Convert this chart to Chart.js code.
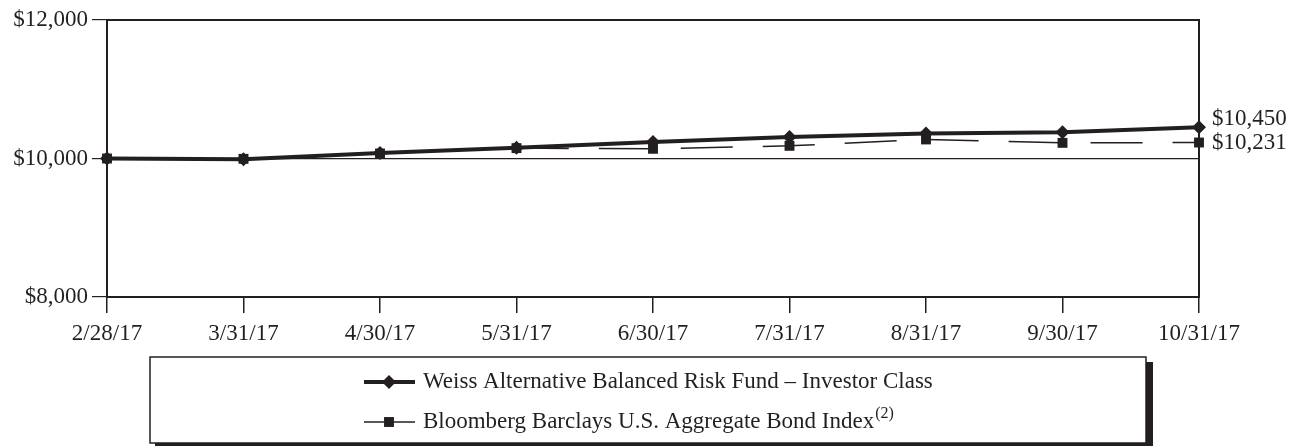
<!DOCTYPE html>
<html>
<head>
<meta charset="utf-8">
<script src="https://cdn.jsdelivr.net/npm/chart.js@4.4.0/dist/chart.umd.min.js"></script>
<style>
  body { margin: 0; background: #fff; }
  #wrap { width: 1299px; height: 446px; }
</style>
</head>
<body>
<div id="wrap"><canvas id="growth-chart" width="1299" height="446"></canvas></div>
<script>
const dates = ['2/28/17', '3/31/17', '4/30/17', '5/31/17', '6/30/17', '7/31/17', '8/31/17', '9/30/17', '10/31/17'];
const fundValues = [10000, 9990, 10080, 10155, 10240, 10310, 10360, 10380, 10450];
const indexValues = [10000, 9995, 10072, 10150, 10140, 10183, 10275, 10226, 10231];
const seriesNames = ['Weiss Alternative Balanced Risk Fund \u2013 Investor Class', 'Bloomberg Barclays U.S. Aggregate Bond Index'];
const seriesNotes = ['', '(2)'];
const yTicks = [8000, 10000, 12000];

const ink = '#231f20';
const serif = "'Liberation Serif', 'Times New Roman', serif";
const textSize = 23;

function money(v) {
  return '$' + v.toLocaleString('en-US');
}

// outline round the plot area
const framePlugin = {
  id: 'frame',
  afterDatasetsDraw(chart) {
    const a = chart.chartArea;
    const ctx = chart.ctx;
    ctx.save();
    ctx.strokeStyle = ink;
    ctx.lineWidth = 2;
    ctx.strokeRect(a.left, a.top, a.right - a.left, a.bottom - a.top);
    ctx.restore();
  }
};

// end values written on the right of the last points
const endLabels = {
  id: 'endLabels',
  afterDraw(chart) {
    const ctx = chart.ctx;
    const y = chart.scales.y;
    const x = chart.scales.x;
    const shifts = [-8, 0];
    ctx.save();
    ctx.font = textSize + 'px ' + serif;
    ctx.fillStyle = ink;
    ctx.textBaseline = 'middle';
    ctx.textAlign = 'left';
    chart.data.datasets.forEach(function(ds, i) {
      const last = ds.data.length - 1;
      const px = x.getPixelForValue(last) + 13;
      const py = y.getPixelForValue(ds.data[last]) + shifts[i];
      ctx.fillText(money(ds.data[last]), px, py);
    });
    ctx.restore();
  }
};

// boxed legend with drop shadow under the axis
const boxLegend = {
  id: 'boxLegend',
  afterDraw(chart) {
    const ctx = chart.ctx;
    const box = { left: 150, top: 357, right: 1146, bottom: 443 };
    ctx.save();
    ctx.fillStyle = ink;
    ctx.fillRect(box.right, box.top + 5, 7, box.bottom - box.top - 2);
    ctx.fillRect(box.left + 5, box.bottom, box.right - box.left + 2, 4);
    ctx.fillStyle = '#fff';
    ctx.fillRect(box.left, box.top, box.right - box.left, box.bottom - box.top);
    ctx.strokeStyle = ink;
    ctx.lineWidth = 1.5;
    ctx.strokeRect(box.left, box.top, box.right - box.left, box.bottom - box.top);

    const rows = [382, 422];
    chart.data.datasets.forEach(function(ds, i) {
      const ry = rows[i];
      ctx.strokeStyle = ink;
      ctx.lineWidth = i === 0 ? 4 : 1.5;
      ctx.setLineDash([]);
      ctx.beginPath();
      ctx.moveTo(364, ry);
      ctx.lineTo(415, ry);
      ctx.stroke();
      ctx.fillStyle = ink;
      Chart.helpers.drawPoint(ctx, {
        pointStyle: ds.pointStyle,
        radius: ds.pointRadius,
        borderWidth: 0
      }, 389, ry);
      ctx.font = textSize + 'px ' + serif;
      ctx.textBaseline = 'middle';
      ctx.textAlign = 'left';
      ctx.fillText(seriesNames[i], 423, ry);
      if (seriesNotes[i]) {
        const w = ctx.measureText(seriesNames[i]).width;
        ctx.font = '16px ' + serif;
        ctx.fillText(seriesNotes[i], 423 + w + 1, ry - 8);
      }
    });
    ctx.restore();
  }
};

const chart = new Chart(document.getElementById('growth-chart'), {
  type: 'line',
  data: {
    labels: dates,
    datasets: [
      {
        label: seriesNames[0],
        data: fundValues,
        borderColor: ink,
        backgroundColor: ink,
        borderWidth: 4,
        pointStyle: 'rectRot',
        pointRadius: 7,
        pointBorderWidth: 0,
        tension: 0
      },
      {
        label: seriesNames[1],
        data: indexValues,
        borderColor: ink,
        backgroundColor: ink,
        borderWidth: 1.5,
        borderDash: [52, 30],
        pointStyle: 'rect',
        pointRadius: 7,
        pointBorderWidth: 0,
        tension: 0
      }
    ]
  },
  options: {
    responsive: false,
    animation: false,
    layout: { padding: { top: 20, right: 100, left: 0, bottom: 0 } },
    plugins: {
      legend: { display: false },
      tooltip: { enabled: false }
    },
    scales: {
      x: {
        offset: false,
        afterFit(scale) { scale.height = 149; },
        grid: {
          offset: false,
          drawOnChartArea: false,
          tickLength: 16,
          tickColor: ink,
          lineWidth: 1.5
        },
        border: { display: false },
        ticks: {
          color: ink,
          padding: 7,
          maxRotation: 0,
          autoSkip: false,
          font: { family: serif, size: textSize }
        }
      },
      y: {
        min: yTicks[0],
        max: yTicks[yTicks.length - 1],
        afterFit(scale) { scale.width = 107; },
        afterBuildTicks(scale) {
          scale.ticks = yTicks.map(function(v) { return { value: v }; });
        },
        grid: {
          color: function(c) { return c.tick && c.tick.value === 10000 ? ink : 'rgba(0,0,0,0)'; },
          tickColor: ink,
          tickLength: 15,
          lineWidth: 1.2
        },
        border: { display: false },
        ticks: {
          color: ink,
          padding: 4,
          font: { family: serif, size: textSize },
          callback: function(v) { return money(v); }
        }
      }
    }
  },
  plugins: [framePlugin, endLabels, boxLegend]
});
</script>
</body>
</html>
